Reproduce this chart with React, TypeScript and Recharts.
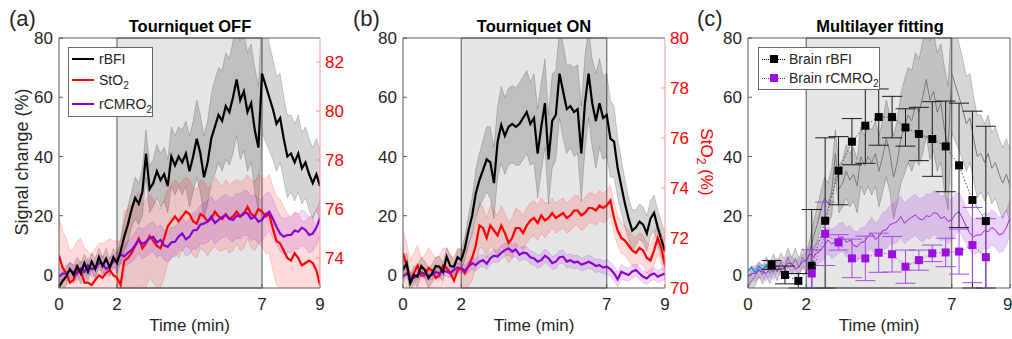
import {
  ComposedChart,
  Line,
  Area,
  Scatter,
  XAxis,
  YAxis,
  ReferenceArea,
  ReferenceLine,
  ErrorBar,
} from 'recharts'

const FONT = '"Liberation Sans", Arial, Helvetica, sans-serif'
const TEXT = '#262626'
const AXIS = '#595959'
const RED = '#ff0000'
const PURPLE = '#8c00d4'

// time grid (min), 7.5 s samples
const TIME = [
  0, 0.125, 0.25, 0.375, 0.5, 0.625, 0.75, 0.875, 1, 1.125, 1.25, 1.375, 1.5, 1.625, 1.75, 1.875, 2,
  2.125, 2.25, 2.375, 2.5, 2.625, 2.75, 2.875, 3, 3.125, 3.25, 3.375, 3.5, 3.625, 3.75, 3.875,
  4, 4.125, 4.25, 4.375, 4.5, 4.625, 4.75, 4.875, 5, 5.125, 5.25, 5.375, 5.5, 5.625, 5.75, 5.875,
  6, 6.125, 6.25, 6.375, 6.5, 6.625, 6.75, 6.875, 7, 7.125, 7.25, 7.375, 7.5, 7.625, 7.75, 7.875,
  8, 8.125, 8.25, 8.375, 8.5, 8.625, 8.75, 8.875, 9,
]
const TIME_TICKS = [0, 2, 7, 9]
const SIGNAL_TICKS = [0, 20, 40, 60, 80]
const SIGNAL_MIN = -4.4
const SIGNAL_MAX = 80

// (a) tourniquet OFF
const OFF_BFI = [
  -4, -2, -0.5, 2, 0, 3, 0.5, 4, 1, 4.5, 2, 6, 3, 5.5, 2.5, 6, 4,
  8, 13, 17, 22, 26, 24, 28,
  41, 29, 31, 35, 32, 34, 30, 40,
  37, 40, 38, 41, 35, 40, 46, 41,
  33, 38, 46, 50, 54, 52, 57, 55,
  60, 66, 59, 62, 55, 58, 49, 43,
  68, 64, 60, 56, 51, 53, 46, 40,
  41, 38, 41, 36, 38, 34, 31, 34, 30,
]
const OFF_BFI_SD = [
  3, 3.5, 3, 2.5, 3, 3, 3.5, 3, 3, 3, 3.5, 3, 3, 3.5, 3, 3, 3.5,
  4, 5, 6, 6, 7, 7, 8,
  8, 8, 8, 9, 9, 9, 9, 10,
  10, 10, 11, 11, 12, 12, 13, 13,
  14, 14, 15, 16, 16, 17, 18, 18,
  19, 19, 20, 20, 20, 20, 21, 21,
  20, 19, 18, 17, 16, 15, 14, 14,
  13, 13, 13, 12, 12, 12, 12, 12, 12,
]
const OFF_STO2 = [
  74.1, 73.6, 73.4, 73.0, 73.1, 73.5, 73.5, 73.0, 73.0, 72.9, 73.1, 73.3, 73.2, 73.4, 73.5, 73.3, 73.2,
  72.9, 73.9, 74.0, 74.2, 74.5, 74.8, 74.4,
  74.6, 74.9, 74.7, 74.5, 74.4, 74.8, 75.3, 75.5,
  75.7, 75.5, 75.7, 75.9, 75.8, 75.5, 75.4, 75.8,
  75.7, 75.5, 75.6, 75.9, 75.7, 75.6, 75.8, 75.6,
  75.7, 75.9, 75.7, 75.8, 76.1, 75.8, 75.7, 76.0,
  75.9, 75.7, 75.8, 75.2, 74.7, 74.6, 74.3, 74.0,
  73.9, 74.2, 74.0, 73.7, 73.8, 73.9, 73.8, 73.5, 72.9,
]
const OFF_STO2_SD = [
  1.6, 1.5, 1.4, 1.3, 1.3, 1.2, 1.3, 1.4, 1.3, 1.2, 1.3, 1.3, 1.4, 1.3, 1.3, 1.4, 1.5,
  1.8, 2.0, 2.0, 2.0, 1.9, 1.9, 1.8,
  1.8, 1.7, 1.7, 1.7, 1.6, 1.6, 1.5, 1.5,
  1.5, 1.5, 1.4, 1.4, 1.4, 1.4, 1.4, 1.4,
  1.4, 1.4, 1.3, 1.4, 1.4, 1.3, 1.4, 1.4,
  1.4, 1.3, 1.4, 1.4, 1.3, 1.4, 1.4, 1.4,
  1.4, 1.5, 1.6, 1.7, 1.8, 1.8, 1.8, 1.8,
  1.8, 1.7, 1.8, 1.8, 1.7, 1.8, 1.8, 1.7, 1.8,
]
const OFF_CMRO2 = [
  -0.6, 0.5, 0.5, 1.5, 1.1, 0.5, 2.2, 1.0, 3.3, 2.0, 2.2, 4.0, 3.9, 2.0, 2.8, 4.5, 5,
  7, 6.2, 7.5, 8.4, 10, 11.8, 10.5,
  11.2, 12.5, 12.9, 11, 11.8, 10, 9.5, 11,
  11.2, 13, 14, 12, 12.9, 15, 15.2, 17,
  17.4, 18, 19.7, 17.5, 18.6, 19.5, 20.3, 19,
  18.6, 20, 19.7, 21, 20.8, 19, 19.7, 18,
  18.6, 20.5, 21.4, 19, 16.3, 14, 12.9, 13.5,
  13.5, 15, 14.6, 16, 15.2, 13.5, 14, 16, 19.2,
]
const OFF_CMRO2_SD = [
  2.5, 2.5, 2.6, 2.5, 2.4, 2.5, 2.5, 2.6, 2.5, 2.5, 2.4, 2.5, 2.5, 2.6, 2.5, 2.5, 2.5,
  3, 3.5, 4, 4, 4.5, 4.5, 5,
  5, 5, 5, 5, 5, 5, 5, 5,
  5, 5, 5.5, 5.5, 6, 6, 6.5, 6.5,
  7, 7, 7, 7, 7, 7, 7, 7,
  7.5, 7.5, 7.5, 7.5, 7.5, 7.5, 7.5, 7.5,
  7, 7, 6.5, 6.5, 6, 6, 6, 6,
  6, 6, 6, 6, 6, 6, 6, 6, 6,
]

// (b) tourniquet ON
const ON_BFI = [
  1.7, 4, -2.8, 0, -0.6, 3, 1.7, -1, 0.5, 3, 2.8, 1, 6.2, 3, 2.8, 6, 5,
  9, 15, 20, 27.6, 32, 35.5, 39,
  38, 31, 45, 50.6, 47, 50, 51, 50,
  51, 53, 55, 51, 53, 41, 50, 58,
  39, 52, 54, 68, 62, 56, 57, 55,
  56, 41, 58, 68, 58, 52, 58, 53,
  54, 46, 45, 36, 30, 24, 19, 15,
  16, 18, 17, 14, 19, 21, 16, 12, 8,
]
const ON_BFI_SD = [
  3, 3.5, 3, 3, 3.5, 3, 3, 3.5, 3, 3, 3.5, 3, 3, 3.5, 3, 3, 3.5,
  4, 5, 6, 8, 9, 10, 11,
  12, 12, 12, 13, 13, 13, 13, 13,
  14, 14, 14, 14, 15, 15, 15, 15,
  15, 16, 15, 15, 16, 15, 14, 15,
  15, 16, 16, 15, 15, 16, 15, 14,
  14, 13, 12, 10, 9, 8, 7, 7,
  6, 6, 6, 6, 6, 6, 6, 6, 6,
]
const ON_STO2 = [
  71.4, 70.9, 70.3, 70.6, 70.9, 70.5, 70.5, 70.8, 70.7, 70.4, 70.5, 70.9, 70.8, 70.6, 70.3, 70.7, 70.8,
  70.6, 70.9, 71.2, 71.7, 72.5, 72.4, 72.0,
  72.5, 72.3, 72.1, 72.5, 72.2, 71.8, 72.0, 72.4,
  72.4, 72.2, 72.5, 72.7, 72.8, 72.6, 72.9, 72.7,
  72.8, 73.0, 72.8, 72.9, 73.0, 72.8, 72.9, 73.1,
  73.1, 72.9, 73.0, 73.2, 73.2, 73.1, 73.3, 73.2,
  73.3, 73.5, 72.8, 72.3, 72.0, 71.9, 71.7, 71.5,
  71.4, 71.6, 71.5, 71.2, 71.1, 71.5, 72.0, 71.6, 70.9,
]
const ON_STO2_SD = [
  0.9, 0.9, 0.8, 0.8, 0.8, 0.7, 0.8, 0.8, 0.7, 0.8, 0.8, 0.7, 0.8, 0.8, 0.7, 0.8, 0.8,
  0.8, 0.8, 0.9, 0.9, 0.9, 0.8, 0.8,
  0.8, 0.8, 0.8, 0.8, 0.8, 0.8, 0.8, 0.8,
  0.7, 0.7, 0.7, 0.7, 0.7, 0.7, 0.7, 0.7,
  0.6, 0.6, 0.6, 0.6, 0.6, 0.6, 0.6, 0.6,
  0.6, 0.6, 0.6, 0.6, 0.6, 0.6, 0.6, 0.6,
  0.6, 0.6, 0.6, 0.6, 0.6, 0.6, 0.6, 0.6,
  0.6, 0.6, 0.6, 0.6, 0.6, 0.6, 0.6, 0.6, 0.6,
]
const ON_CMRO2 = [
  -0.6, 0.5, -0.6, -1, 0, 0.8, 0.5, -0.3, 0, 1, 0.5, 1.5, 1.1, 0.6, 1.7, 2.5, 2.2,
  1.5, 2.8, 4, 3.3, 4.5, 5, 3.8,
  5.6, 6.5, 6.2, 7.5, 8.4, 9, 7.9, 8.6,
  6.8, 7.5, 7.3, 6, 5.6, 4.5, 5, 6.5,
  5.6, 4, 4.5, 6, 6.2, 4.5, 5, 4.2,
  4.5, 3.5, 3.9, 4.5, 3.9, 3, 3.3, 2.5,
  2.8, 2, 0.5, -1.5, 1.1, 0.5, 0, 1.2,
  1.7, 0.5, -0.6, -1.2, 0, 0.5, -0.6, 0, 0.5,
]
const ON_CMRO2_SD = [
  1.5, 1.5, 1.6, 1.5, 1.5, 1.5, 1.6, 1.5, 1.5, 1.5, 1.6, 1.5, 1.5, 1.5, 1.6, 1.5, 1.5,
  1.8, 1.8, 2, 2, 2, 2, 2,
  2, 2, 2, 2.2, 2.2, 2.2, 2.2, 2.2,
  2.2, 2.2, 2.2, 2.2, 2.2, 2.2, 2.2, 2.2,
  2.2, 2.2, 2.2, 2.2, 2.2, 2.2, 2.2, 2.2,
  2.2, 2.2, 2.2, 2.2, 2.2, 2.2, 2.2, 2.2,
  2.4, 2.4, 2.5, 2.5, 2.4, 2.3, 2.2, 2.2,
  2, 2, 2, 2, 2, 2, 2, 2, 2,
]

// (c) short baseline trace (first samples only)
const BASELINE_BLUE = [1.2, 2.6, 0.8, 3.0, 1.6, 3.4, 2.2, 2.8]

// (c) multilayer fit points
const BRAIN_T = [0.81, 1.27, 1.73, 2.19, 2.65, 3.11, 3.57, 4.03, 4.49, 4.95, 5.41, 5.87, 6.33, 6.79, 7.25, 7.71, 8.17]
const BRAIN_BFI = [3.4, 0, -2, 3.1, 18.3, 35.2, 45, 50.4, 53.3, 53.3, 49.8, 47.6, 45.9, 43.4, 37, 25.3, 18.2]
const BRAIN_BFI_ERR = [1.5, 3, 2.5, 19, 28, 11.5, 7.8, 12.7, 9.5, 7, 6.3, 9, 12.6, 15.3, 21, 30, 32]
const BRAIN_CMRO2_T = [2.19, 2.65, 3.11, 3.57, 4.03, 4.49, 4.95, 5.41, 5.87, 6.33, 6.79, 7.25, 7.71, 8.17]
const BRAIN_CMRO2 = [0.5, 13.9, 11, 5.6, 5.6, 7.5, 7, 2.8, 5, 7.3, 7.6, 7.9, 10.1, 6]
const BRAIN_CMRO2_ERR = [8, 10.7, 2.6, 6.5, 7.5, 6.6, 6, 5.6, 3.4, 2.8, 4.8, 7.6, 12.7, 13]

const band = (mean: number[], sd: number[], i: number) => [mean[i] - sd[i], mean[i] + sd[i]]

// error bars are not clipped by recharts, so stop them at the plot edges
const clippedErr = (v: number, e: number) => [Math.min(e, v - SIGNAL_MIN), Math.min(e, SIGNAL_MAX - v)]

const offData = TIME.map((t, i) => ({
  t,
  bfi: OFF_BFI[i],
  bfiBand: band(OFF_BFI, OFF_BFI_SD, i),
  sto2: OFF_STO2[i],
  sto2Band: band(OFF_STO2, OFF_STO2_SD, i),
  cmro2: OFF_CMRO2[i],
  cmro2Band: band(OFF_CMRO2, OFF_CMRO2_SD, i),
  blue: i < BASELINE_BLUE.length ? BASELINE_BLUE[i] : null,
}))

const onData = TIME.map((t, i) => ({
  t,
  bfi: ON_BFI[i],
  bfiBand: band(ON_BFI, ON_BFI_SD, i),
  sto2: ON_STO2[i],
  sto2Band: band(ON_STO2, ON_STO2_SD, i),
  cmro2: ON_CMRO2[i],
  cmro2Band: band(ON_CMRO2, ON_CMRO2_SD, i),
}))

const brainBfi = BRAIN_T.map((t, i) => ({ t, v: BRAIN_BFI[i], err: clippedErr(BRAIN_BFI[i], BRAIN_BFI_ERR[i]) }))
const brainCmro2 = BRAIN_CMRO2_T.map((t, i) => ({ t, v: BRAIN_CMRO2[i], err: clippedErr(BRAIN_CMRO2[i], BRAIN_CMRO2_ERR[i]) }))

const TICK = { fill: TEXT, fontSize: 17, fontFamily: FONT }

const square = (color: string) => (props: any) => (
  <rect x={props.cx - 4} y={props.cy - 4} width={8} height={8} fill={color} />
)

function TourniquetPanel({ left, data, axisWidth, stoDomain, stoTicks }: {
  left: number
  data: any[]
  axisWidth: number
  stoDomain: [number, number]
  stoTicks: number[]
}) {
  return (
    <div style={{ position: 'absolute', left, top: 0 }}>
      <ComposedChart width={345} height={339} data={data} margin={{ top: 38, right: 0, bottom: 0, left: 0 }}>
        <XAxis
          dataKey="t"
          type="number"
          domain={[0, 9]}
          ticks={TIME_TICKS}
          height={51}
          allowDataOverflow
          stroke={AXIS}
          tick={TICK}
          tickSize={-4}
          tickMargin={14}
          label={{ value: 'Time (min)', position: 'insideBottom', offset: 8, fill: TEXT, fontSize: 17, fontFamily: FONT }}
        />
        <YAxis yAxisId="left" domain={[SIGNAL_MIN, SIGNAL_MAX]} ticks={SIGNAL_TICKS} width={axisWidth} allowDataOverflow stroke={AXIS} tick={TICK} tickSize={-4} tickMargin={10} />
        <YAxis yAxisId="right" orientation="right" domain={stoDomain} ticks={stoTicks} width={25} allowDataOverflow stroke="#ff8f8f" tick={{ ...TICK, fill: RED }} tickSize={-4} tickMargin={9} />
        <ReferenceArea yAxisId="left" x1={2} x2={7} fill="#e6e6e6" fillOpacity={1} stroke="#555" strokeWidth={1} />
        <ReferenceLine yAxisId="left" y={80} stroke={AXIS} />
        <Area yAxisId="left" dataKey="bfiBand" fill="#000" fillOpacity={0.17} stroke="#000" strokeOpacity={0.22} strokeWidth={0.8} isAnimationActive={false} />
        <Area yAxisId="right" dataKey="sto2Band" fill={RED} fillOpacity={0.14} stroke={RED} strokeOpacity={0.22} strokeWidth={0.8} isAnimationActive={false} />
        <Area yAxisId="left" dataKey="cmro2Band" fill={PURPLE} fillOpacity={0.14} stroke={PURPLE} strokeOpacity={0.22} strokeWidth={0.8} isAnimationActive={false} />
        <Line yAxisId="right" dataKey="sto2" stroke={RED} strokeWidth={2.2} dot={false} isAnimationActive={false} />
        <Line yAxisId="left" dataKey="cmro2" stroke={PURPLE} strokeWidth={2.2} dot={false} isAnimationActive={false} />
        <Line yAxisId="left" dataKey="bfi" stroke="#000" strokeWidth={2.2} dot={false} isAnimationActive={false} />
      </ComposedChart>
    </div>
  )
}

function FittingPanel() {
  return (
    <div style={{ position: 'absolute', left: 690, top: 0 }}>
      <ComposedChart width={322} height={339} data={offData} margin={{ top: 38, right: 2, bottom: 0, left: 0 }}>
        <XAxis
          dataKey="t"
          type="number"
          domain={[0, 9]}
          ticks={TIME_TICKS}
          height={51}
          allowDataOverflow
          stroke={AXIS}
          tick={TICK}
          tickSize={-4}
          tickMargin={14}
          label={{ value: 'Time (min)', position: 'insideBottom', offset: 8, fill: TEXT, fontSize: 17, fontFamily: FONT }}
        />
        <YAxis yAxisId="left" domain={[SIGNAL_MIN, SIGNAL_MAX]} ticks={SIGNAL_TICKS} width={58} allowDataOverflow stroke={AXIS} tick={TICK} tickSize={-4} tickMargin={10} />
        <ReferenceArea yAxisId="left" x1={2} x2={7} fill="#e6e6e6" fillOpacity={1} stroke="#555" strokeWidth={1} />
        <ReferenceLine yAxisId="left" y={80} stroke={AXIS} />
        <ReferenceLine yAxisId="left" x={9} stroke={AXIS} />
        <Area yAxisId="left" dataKey="bfiBand" fill="#000" fillOpacity={0.16} stroke="#000" strokeOpacity={0.25} strokeWidth={0.8} isAnimationActive={false} />
        <Area yAxisId="left" dataKey="cmro2Band" fill="#a030e0" fillOpacity={0.22} stroke="#a030e0" strokeOpacity={0.2} strokeWidth={0.8} isAnimationActive={false} />
        <Line yAxisId="left" dataKey="bfi" stroke="#7a7a7a" strokeWidth={1} dot={false} isAnimationActive={false} />
        <Line yAxisId="left" dataKey="cmro2" stroke="#9a20e0" strokeWidth={1} dot={false} isAnimationActive={false} />
        <Line yAxisId="left" dataKey="blue" stroke="#1c8ed8" strokeWidth={1.5} dot={false} isAnimationActive={false} />
        <Scatter
          yAxisId="left"
          data={brainBfi}
          dataKey="v"
          shape={square('#000')}
          line={{ stroke: '#444', strokeWidth: 1, strokeDasharray: '1.5 2' }}
          isAnimationActive={false}
        >
          <ErrorBar dataKey="err" direction="y" width={10} stroke="#1a1a1a" strokeWidth={1} />
        </Scatter>
        <Scatter
          yAxisId="left"
          data={brainCmro2}
          dataKey="v"
          shape={square('#9b10e0')}
          line={{ stroke: '#a64ae6', strokeWidth: 1, strokeDasharray: '1.5 2' }}
          isAnimationActive={false}
        >
          <ErrorBar dataKey="err" direction="y" width={10} stroke="#a64ae6" strokeWidth={1} />
        </Scatter>
      </ComposedChart>
    </div>
  )
}

function LineRow({ top, color, children }: { top: number; color: string; children: any }) {
  return (
    <div style={{ position: 'absolute', left: 3, top: top - 10, height: 20, display: 'flex', alignItems: 'center', whiteSpace: 'nowrap' }}>
      <span style={{ display: 'inline-block', width: 22, height: 2, background: color, marginRight: 5 }} />
      <span>{children}</span>
    </div>
  )
}

function MarkerRow({ top, color, children }: { top: number; color: string; children: any }) {
  return (
    <div style={{ position: 'absolute', left: 3, top: top - 10, height: 20, display: 'flex', alignItems: 'center', whiteSpace: 'nowrap' }}>
      <span style={{ position: 'relative', display: 'inline-block', width: 23, height: 8, marginRight: 4 }}>
        <span style={{ position: 'absolute', left: 0, right: 0, top: 4, borderTop: `1px dotted ${color}` }} />
        <span style={{ position: 'absolute', left: 8, top: 0, width: 8, height: 8, background: color }} />
      </span>
      <span>{children}</span>
    </div>
  )
}

const legendBox = (left: number, top: number, width: number, height: number): any => ({
  position: 'absolute',
  left,
  top,
  width,
  height,
  boxSizing: 'border-box',
  border: '1px solid #666',
  background: '#fff',
  fontFamily: FONT,
  fontSize: 14,
  color: TEXT,
})

const sub = { fontSize: '72%', verticalAlign: '-0.35em', lineHeight: 0 }

const abs = (left: number, top: number, extra: any = {}): any => ({ position: 'absolute', left, top, lineHeight: 1, whiteSpace: 'nowrap', ...extra })

export default function App() {
  return (
    <div style={{ position: 'absolute', left: 0, top: 0, width: 1012, height: 339, background: '#fff', overflow: 'hidden', fontFamily: FONT, color: TEXT }}>
      <TourniquetPanel left={0} data={offData} axisWidth={59} stoDomain={[72.78, 82.98]} stoTicks={[74, 76, 78, 80, 82]} />
      <TourniquetPanel left={345} data={onData} axisWidth={58} stoDomain={[70, 80]} stoTicks={[70, 72, 74, 76, 78, 80]} />
      <FittingPanel />

      <div style={abs(9, 8, { fontSize: 22 })}>(a)</div>
      <div style={abs(353, 8, { fontSize: 22 })}>(b)</div>
      <div style={abs(697, 8, { fontSize: 22 })}>(c)</div>

      <div style={abs(190, 18, { fontSize: 16.5, fontWeight: 'bold', transform: 'translateX(-50%)', color: '#000' })}>Tourniquet OFF</div>
      <div style={abs(534, 18, { fontSize: 16.5, fontWeight: 'bold', transform: 'translateX(-50%)', color: '#000' })}>Tourniquet ON</div>
      <div style={abs(880, 18, { fontSize: 16.5, fontWeight: 'bold', transform: 'translateX(-50%)', color: '#000' })}>Multilayer fitting</div>

      <div style={abs(22, 162, { fontSize: 18, writingMode: 'vertical-rl', transform: 'translate(-50%, -50%) rotate(180deg)' })}>Signal change (%)</div>
      <div style={abs(706, 162, { fontSize: 17, color: RED, writingMode: 'vertical-rl', transform: 'translate(-50%, -50%)' })}>
        StO<span style={sub}>2</span> (%)
      </div>

      <div style={legendBox(68, 47, 85, 70)}>
        <LineRow top={11} color="#000">rBFI</LineRow>
        <LineRow top={32} color={RED}>StO<span style={sub}>2</span></LineRow>
        <LineRow top={56} color={PURPLE}>rCMRO<span style={sub}>2</span></LineRow>
      </div>

      <div style={legendBox(758, 47, 122, 43)}>
        <MarkerRow top={11} color="#000">Brain rBFI</MarkerRow>
        <MarkerRow top={30} color="#9b10e0">Brain rCMRO<span style={sub}>2</span></MarkerRow>
      </div>
    </div>
  )
}
